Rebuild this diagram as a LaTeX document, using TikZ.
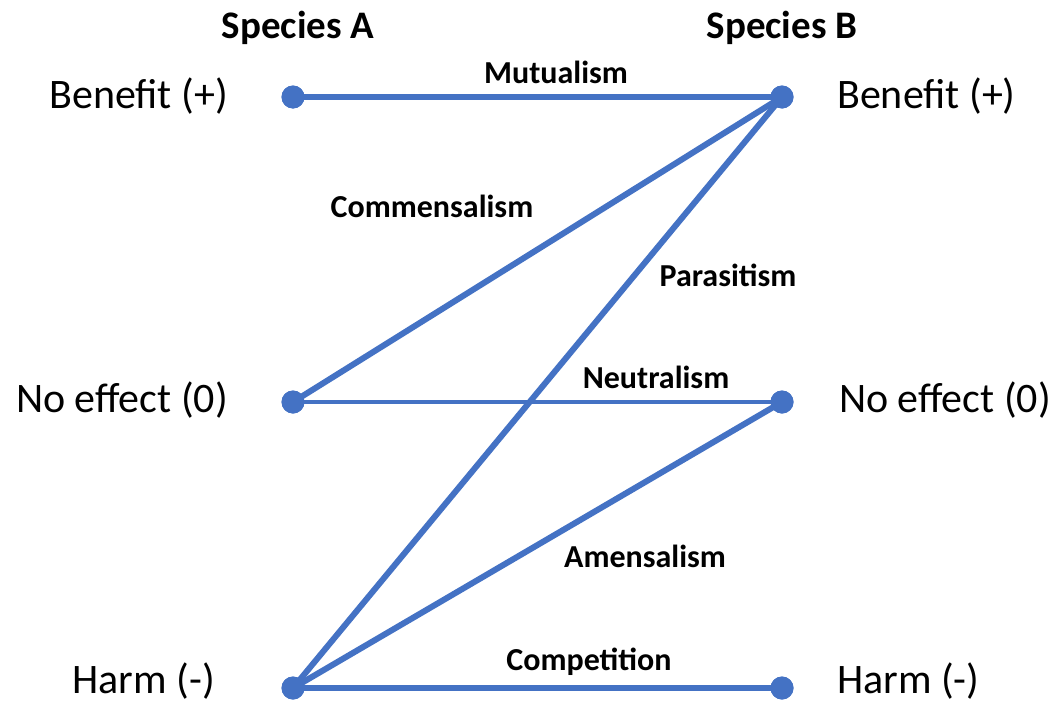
\documentclass[tikz,border=0pt]{standalone}
\usepackage{fontspec}
\setmainfont{Carlito}
\usetikzlibrary{positioning}
\definecolor{linkblue}{HTML}{4472C4}
\tikzset{
  level/.style={
    text=black,
    font=\fontsize{42}{50}\selectfont,
    inner sep=0pt
  },
  species/.style={
    text=black,
    font=\bfseries\fontsize{39}{46}\selectfont,
    inner sep=0pt
  },
  relation/.style={
    text=black,
    font=\bfseries\fontsize{32}{38}\selectfont,
    inner sep=0pt
  },
  dot/.style={
    circle,
    fill=linkblue,
    inner sep=0pt,
    minimum size=23pt
  },
  link/.style={
    draw=linkblue,
    line width=6pt
  }
}

\begin{document}
\begin{tikzpicture}[x=1pt,y=-1pt]
  \useasboundingbox (0,0) rectangle (1058,704);

  % Column headings
  \node[species] (specA) at (298,28) {Species A};
  \node[species] (specB) at (782,28) {Species B};

  % Effect levels
  \node[dot] (aBen) at (293,97) {};
  \node[dot] (aNo) at (293,402) {};
  \node[dot] (aHarm) at (293,688) {};
  \node[dot] (bBen) at (782,97) {};
  \node[dot] (bNo) at (782,402) {};
  \node[dot] (bHarm) at (782,688) {};

  \node[level, anchor=east] (aBenTxt) at (228,96) {Benefit (+)};
  \node[level, anchor=east] (aNoTxt) at (228,400) {No effect (0)};
  \node[level, anchor=east] (aHarmTxt) at (215,681) {Harm (-)};
  \node[level, anchor=west] (bBenTxt) at (837,96) {Benefit (+)};
  \node[level, anchor=west] (bNoTxt) at (839,400) {No effect (0)};
  \node[level, anchor=west] (bHarmTxt) at (837,681) {Harm (-)};

  % Interactions
  \draw[link] (aBen.center) -- (bBen.center);
  \draw[link] (aNo.center) -- (bBen.center);
  \draw[link] (aHarm.center) -- (bBen.center);
  \draw[link, line width=3.5pt] (aNo.center) -- (bNo.center);
  \draw[link] (aHarm.center) -- (bNo.center);
  \draw[link] (aHarm.center) -- (bHarm.center);
  \foreach \d in {aBen,aNo,aHarm,bBen,bNo,bHarm} {
    \fill[linkblue] (\d) circle (11.5pt);
  }

  % Interaction names
  \node[relation] (mutual) at (556,72) {Mutualism};
  \node[relation] (commens) at (432,206) {Commensalism};
  \node[relation] (parasit) at (728,275) {Parasitism};
  \node[relation] (neutral) at (656,377) {Neutralism};
  \node[relation] (amens) at (645,556) {Amensalism};
  \node[relation] (compet) at (589,662) {Competition};
\end{tikzpicture}
\end{document}
